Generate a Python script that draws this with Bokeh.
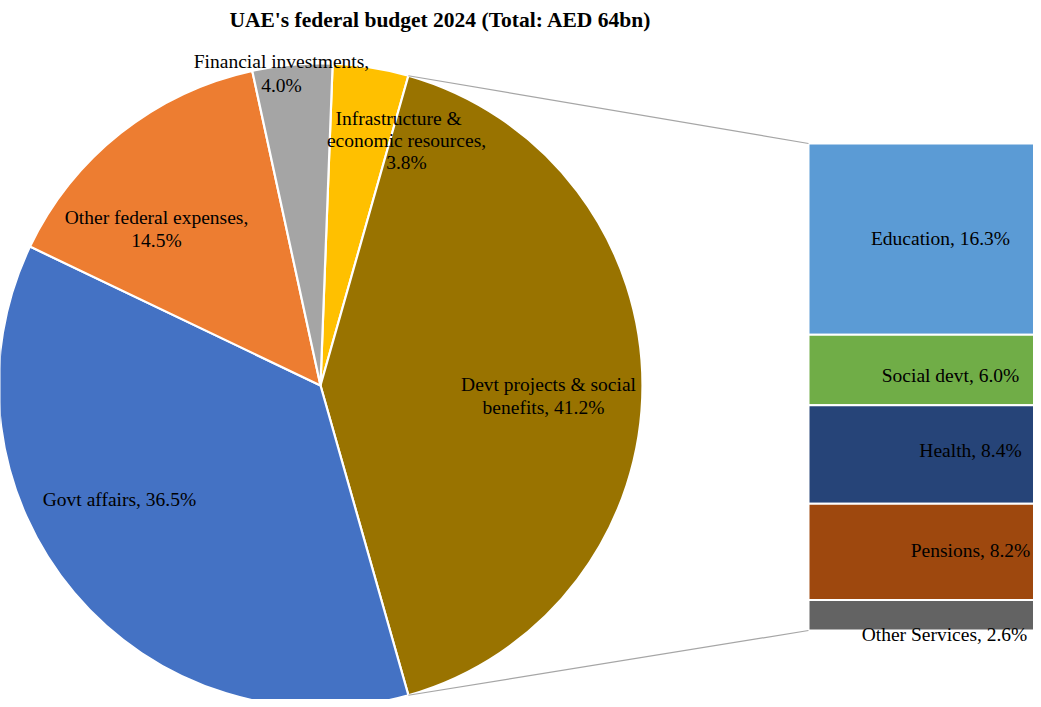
import numpy as np
from bokeh.plotting import figure
from bokeh.models import Range1d, ColumnDataSource
from bokeh.core.properties import value
from bokeh.embed import file_html
from bokeh.resources import INLINE

# ---------------- data ----------------
title_text = "UAE's federal budget 2024 (Total: AED 64bn)"

pie_labels = ["Infrastructure & economic resources", "Devt projects & social benefits",
              "Govt affairs", "Other federal expenses", "Financial investments"]
pie_values = [3.8, 41.2, 36.5, 14.5, 4.0]

bar_labels = ["Education", "Social devt", "Health", "Pensions", "Other Services"]
bar_values = [16.3, 6.0, 8.4, 8.2, 2.6]

# ---------------- styles ----------------
pie_colors = ["#FFC000", "#997300", "#4472C4", "#ED7D31", "#A5A5A5"]
bar_colors = ["#5B9BD5", "#70AD47", "#264478", "#9E480E", "#636363"]
FONT = "Liberation Serif"

# ---------------- layout (screen-pixel coordinates, y downward) ----------------
W, H = 1033, 699
cx, cy, r = 320, 385, 322
bar_left, bar_right, bar_top, bar_total_h = 808, 1060, 143, 487
TEXT_SHIFT = 7   # rendered text sits this far below the requested baseline

def Y(v):
    return -np.asarray(v, dtype=float)

p = figure(width=W, height=H, x_range=Range1d(0, W), y_range=Range1d(-H, 0),
           output_backend="svg", toolbar_location=None, min_border=0)
p.axis.visible = False
p.grid.visible = False
p.outline_line_color = None
p.background_fill_color = "white"
p.border_fill_color = "white"

# ---------------- pie ----------------
vals = np.array(pie_values, dtype=float)
deg = vals / vals.sum() * 360.0
theta0 = 90.0 - (deg[0] + deg[1] / 2.0)   # split slice centred on the right (bar-of-pie)
ends = theta0 + np.cumsum(deg)             # clockwise from 12 o'clock
starts = ends - deg
start_ang = np.radians(90.0 - ends)
end_ang = np.radians(90.0 - starts)

pie_src = ColumnDataSource(dict(start=start_ang, end=end_ang, color=pie_colors, label=pie_labels))
p.wedge(x=cx, y=-cy, radius=r, start_angle="start", end_angle="end",
        fill_color="color", line_color="white", line_width=2.2, source=pie_src)

# ---------------- bar ----------------
bv = np.array(bar_values, dtype=float)
unit = bar_total_h / bv.sum()
b_bottoms = bar_top + np.cumsum(bv) * unit
b_tops = b_bottoms - bv * unit
bar_src = ColumnDataSource(dict(top=Y(b_tops), bottom=Y(b_bottoms), color=bar_colors, label=bar_labels))
p.quad(left=bar_left, right=bar_right, top="top", bottom="bottom",
       fill_color="color", line_color="white", line_width=2, source=bar_src)

# ---------------- connector lines ----------------
t1 = np.radians(starts[1])
t2 = np.radians(ends[1])
p1 = (cx + r * np.sin(t1), -(cy - r * np.cos(t1)))
p2 = (cx + r * np.sin(t2), -(cy - r * np.cos(t2)))
p.segment(x0=[p1[0], p2[0]], y0=[p1[1], p2[1]],
          x1=[bar_left, bar_left], y1=[-bar_top, -(bar_top + bar_total_h)],
          line_color="#A6A6A6", line_width=1.2)

# ---------------- labels ----------------
def pct(v):
    return f"{v:.1f}%"

pie_label_lines = [
    (["Infrastructure &", "economic resources,", pct(pie_values[0])], [398, 406, 406], [125, 147, 169]),
    (["Devt projects & social", "benefits, " + pct(pie_values[1])], [548, 543], [391, 414]),
    ([pie_labels[2] + ", " + pct(pie_values[2])], [119], [506]),
    (["Other federal expenses,", pct(pie_values[3])], [156, 156], [224, 247]),
    (["Financial investments,", pct(pie_values[4])], [281, 281], [68, 92]),
]
tx, ty, tt = [], [], []
for lines, xs, ys in pie_label_lines:
    tx += xs
    ty += list(Y(np.array(ys) - TEXT_SHIFT))
    tt += lines

bar_label_x = [940, 950, 970, 970, 944]
bar_label_y = [245, 382, 457, 557, 641]
for i, lab in enumerate(bar_labels):
    tx.append(bar_label_x[i])
    ty.append(-(bar_label_y[i] - TEXT_SHIFT))
    tt.append(f"{lab}, {pct(bar_values[i])}")

p.text(x=tx, y=ty, text=tt, text_font=value(FONT), text_font_size="19.5px",
       text_align="center", text_baseline="alphabetic", text_color="black")

p.text(x=[440], y=[-(27 - 8)], text=[title_text], text_font=value(FONT), text_font_size="21.5px",
       text_font_style="bold", text_align="center", text_baseline="alphabetic", text_color="black")

open("out.html", "w").write(file_html(p, INLINE))
